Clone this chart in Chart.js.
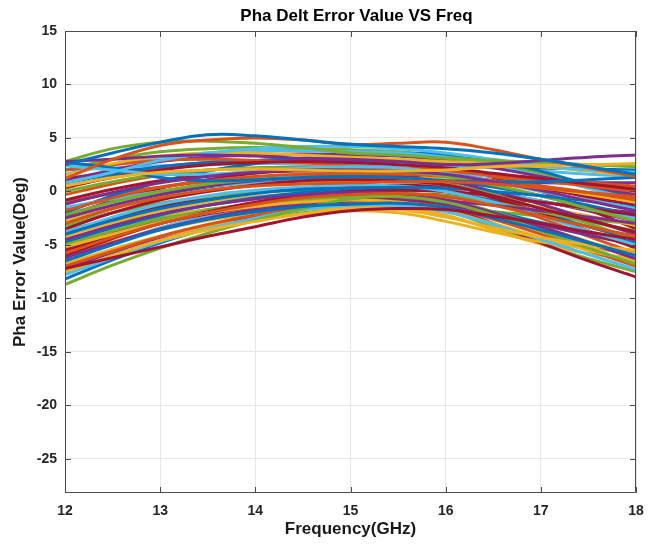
<!DOCTYPE html>
<html>
<head>
<meta charset="utf-8">
<title>Pha Delt Error Value VS Freq</title>
<script src="https://cdn.jsdelivr.net/npm/chart.js@4.4.1/dist/chart.umd.min.js"></script>
<style>
  html, body { margin: 0; padding: 0; background: #fff; }
  #wrap { width: 660px; height: 544px; position: relative; }
</style>
</head>
<body>
<div id="wrap"><canvas id="phaChart"></canvas></div>
<script>
// frequency points (GHz)
const freqGHz = [12, 12.5, 13, 13.5, 14, 14.5, 15, 15.5, 16, 16.5, 17, 17.5, 18];
const yTickVals = [-25, -20, -15, -10, -5, 0, 5, 10, 15];
const xTickVals = [12, 13, 14, 15, 16, 17, 18];

// phase delta error per channel (deg), one row per channel
const phaErr = [
  [2.5, 3.6, 4.6, 5.3, 5.2, 4.8, 4.4, 4.2, 4.0, 3.6, 3.0, 2.3, 1.6],
  [1.2, 3.0, 4.3, 4.8, 5.0, 4.8, 4.4, 4.5, 4.6, 3.9, 3.0, 2.2, 1.4],
  [0.5, 1.3, 1.8, 2.0, 2.1, 2.0, 1.9, 1.9, 2.0, 2.3, 2.4, 2.5, 2.6],
  [2.8, 3.0, 3.3, 3.4, 3.3, 3.1, 3.0, 2.8, 2.5, 2.6, 2.9, 3.2, 3.4],
  [2.8, 4.0, 4.6, 4.7, 4.5, 4.1, 3.6, 3.4, 3.1, 2.9, 2.7, 2.5, 2.3],
  [0.8, 1.8, 2.9, 3.6, 4.0, 4.2, 4.2, 4.0, 3.6, 3.0, 2.4, 2.0, 1.8],
  [-7.2, -6.2, -5.2, -4.2, -3.3, -2.4, -1.8, -1.6, -1.7, -2.3, -3.0, -3.8, -4.5],
  [-6.5, -5.0, -3.6, -2.6, -1.9, -1.4, -1.2, -1.1, -1.5, -2.5, -3.6, -4.8, -6.0],
  [-3.0, -1.6, -0.6, 0.1, 0.5, 0.7, 0.8, 0.9, 0.9, 0.7, 0.3, -0.1, -0.5],
  [-7.5, -6.0, -4.6, -3.6, -2.8, -2.1, -1.6, -1.7, -2.4, -3.4, -4.3, -5.0, -5.5],
  [-1.2, -0.1, 0.8, 1.4, 1.8, 2.0, 2.0, 1.9, 1.6, 0.9, 0.1, -0.9, -1.8],
  [-8.7, -6.9, -5.3, -3.9, -2.7, -1.6, -0.7, -0.5, -1.0, -2.2, -3.7, -5.3, -6.8],
  [2.4, 2.0, 1.6, 1.6, 1.9, 2.2, 2.3, 2.2, 1.7, 0.9, 0.0, -0.8, -1.6],
  [-3.5, -2.0, -0.8, 0.0, 0.6, 1.0, 1.1, 1.0, 0.6, -0.4, -1.6, -2.7, -3.8],
  [2.7, 2.2, 1.3, 1.0, 1.1, 1.3, 1.4, 1.3, 1.0, 0.9, 0.9, 1.1, 1.3],
  [-5.8, -4.3, -3.0, -2.0, -1.2, -0.6, -0.3, -0.2, -0.5, -1.3, -2.3, -3.3, -4.2],
  [1.5, 2.6, 3.3, 3.6, 3.6, 3.4, 3.2, 3.0, 2.8, 2.6, 2.3, 1.9, 1.5],
  [-4.5, -3.2, -2.1, -1.3, -0.7, -0.3, -0.1, -0.2, -0.8, -2.0, -3.3, -4.8, -6.3],
  [-2.2, -1.0, 0.0, 0.7, 1.1, 1.3, 1.3, 1.2, 0.7, -0.3, -1.6, -3.0, -4.5],
  [-7.8, -6.2, -4.7, -3.5, -2.5, -1.7, -1.3, -1.3, -1.9, -3.1, -4.5, -5.9, -7.3],
  [0.4, 1.3, 2.0, 2.5, 2.7, 2.8, 2.7, 2.5, 2.2, 1.7, 1.2, 0.7, 0.2],
  [-4.0, -2.7, -1.6, -0.8, -0.2, 0.2, 0.3, 0.4, 0.3, 0.0, -0.4, -0.9, -1.5],
  [2.0, 2.5, 2.9, 3.0, 2.9, 2.7, 2.4, 2.2, 1.9, 1.5, 1.0, 0.5, 0.0],
  [-5.2, -4.0, -2.9, -2.0, -1.4, -1.0, -0.8, -1.0, -1.8, -3.0, -4.3, -5.5, -6.5],
  [-6.2, -4.8, -3.5, -2.5, -1.7, -1.2, -0.9, -0.8, -0.9, -1.3, -1.8, -2.4, -3.0],
  [0.0, 0.9, 1.6, 2.0, 2.2, 2.2, 2.1, 1.9, 1.4, 0.6, -0.4, -1.6, -2.8],
  [-3.8, -2.4, -1.2, -0.4, 0.1, 0.4, 0.6, 0.5, 0.0, -1.0, -2.3, -3.7, -5.0],
  [-6.0, -4.4, -3.0, -1.9, -1.0, -0.4, 0.0, 0.1, 0.0, -0.4, -1.0, -1.6, -2.2],
  [0.8, 1.6, 2.3, 2.7, 2.9, 3.0, 2.9, 2.8, 2.6, 2.4, 2.2, 2.1, 2.0],
  [-1.8, -0.6, 0.4, 1.0, 1.4, 1.6, 1.6, 1.6, 1.4, 1.0, 0.5, -0.1, -0.8],
  [-2.8, -1.6, -0.6, 0.1, 0.6, 0.8, 0.9, 1.1, 1.2, 0.9, 0.4, -0.3, -1.0],
  [1.0, 2.0, 2.8, 3.2, 3.4, 3.5, 3.4, 3.3, 2.9, 2.2, 1.4, 0.5, -0.3],
  [-5.0, -3.7, -2.6, -1.8, -1.2, -0.8, -0.5, -0.3, -0.4, -1.0, -1.9, -2.8, -3.7],
  [1.6, 2.5, 3.2, 3.6, 3.8, 3.8, 3.7, 3.6, 3.2, 2.4, 1.4, 0.3, -0.8],
  [-0.8, 0.2, 1.0, 1.5, 1.8, 1.9, 1.8, 1.5, 0.8, -0.6, -2.0, -3.7, -5.3],
  [-4.8, -3.4, -2.2, -1.3, -0.6, -0.1, 0.2, 0.3, 0.0, -0.9, -2.0, -3.3, -4.5],
  [-7.0, -5.6, -4.2, -3.1, -2.2, -1.5, -1.0, -1.0, -1.5, -2.6, -4.0, -5.5, -7.0],
  [-6.8, -5.4, -4.2, -3.3, -2.6, -2.1, -1.8, -2.0, -2.8, -3.8, -4.7, -5.3, -5.8],
  [-2.5, -1.3, -0.3, 0.5, 1.0, 1.3, 1.5, 1.4, 1.0, 0.0, -1.2, -2.6, -4.0],
  [-3.2, -2.0, -1.1, -0.5, -0.1, 0.1, 0.2, 0.0, -0.7, -1.9, -3.3, -4.7, -6.0],
  [-1.5, -0.7, 0.0, 0.5, 0.8, 1.0, 1.0, 0.9, 0.6, -0.1, -0.9, -1.7, -2.5],
  [-5.5, -4.2, -3.0, -2.1, -1.4, -0.9, -0.6, -0.7, -1.5, -3.0, -4.8, -6.5, -8.0],
  [-2.0, -0.4, 0.9, 1.9, 2.6, 3.1, 3.4, 3.5, 3.5, 2.9, 1.9, 0.6, -0.7],
  [-0.3, 0.7, 1.5, 2.0, 2.2, 2.3, 2.3, 2.2, 2.0, 1.6, 1.2, 0.8, 0.5],
  [-4.2, -2.9, -1.8, -1.0, -0.5, -0.2, 0.0, 0.1, -0.1, -0.7, -1.5, -2.3, -3.2],
  [-7.3, -5.7, -4.3, -3.2, -2.3, -1.5, -1.0, -0.9, -1.3, -2.1, -3.1, -4.1, -5.0],
  [2.0, 3.0, 3.7, 4.0, 4.1, 4.0, 3.9, 3.7, 3.3, 2.6, 1.7, 0.6, -0.6],
  [-6.5, -4.9, -3.4, -2.3, -1.4, -0.7, -0.2, -0.1, -0.7, -2.0, -3.6, -5.2, -6.8],
  [-3.8, -2.5, -1.4, -0.6, 0.0, 0.3, 0.4, 0.6, 0.5, -0.1, -0.9, -1.8, -2.8],
  [-8.2, -6.4, -4.8, -3.5, -2.4, -1.5, -0.9, -0.8, -1.1, -1.9, -2.9, -3.9, -4.8],
  [-1.0, -0.2, 0.4, 0.9, 1.1, 1.2, 1.2, 1.0, 0.3, -1.0, -2.5, -4.2, -5.8],
  [-3.5, -2.8, -2.2, -1.8, -1.5, -1.3, -1.2, -1.4, -2.2, -3.6, -4.9, -5.8, -6.2],
  [-1.6, -0.7, 0.0, 0.5, 0.8, 1.0, 1.0, 1.1, 1.0, 0.9, 0.8, 0.8, 0.8],
  [-4.6, -3.4, -2.4, -1.7, -1.2, -0.9, -0.7, -0.9, -1.8, -3.3, -4.9, -6.3, -7.5],
  [2.0, 2.2, 2.4, 2.5, 2.6, 2.6, 2.6, 2.5, 2.4, 2.2, 1.9, 1.6, 1.4],
  [-2.3, -0.9, 0.3, 1.1, 1.7, 2.0, 2.1, 2.0, 1.6, 1.0, 0.3, -0.5, -1.3],
  [-3.0, -1.6, -0.4, 0.4, 0.9, 1.2, 1.3, 1.3, 1.0, 0.4, -0.4, -1.3, -2.3],
  [0.3, 1.4, 2.2, 2.6, 2.8, 2.9, 2.9, 2.7, 2.2, 1.4, 0.5, -0.6, -1.8],
  [-6.0, -4.7, -3.6, -2.7, -2.1, -1.7, -1.4, -1.3, -1.5, -2.2, -3.0, -3.8, -4.5],
  [-5.3, -3.9, -2.7, -1.8, -1.1, -0.7, -0.4, -0.3, -0.3, -0.6, -1.0, -1.5, -2.0],
  [-7.6, -6.0, -4.6, -3.5, -2.6, -2.0, -1.6, -1.5, -1.6, -1.9, -2.3, -2.7, -3.0],
  [-2.7, -1.3, -0.1, 0.7, 1.2, 1.5, 1.7, 1.8, 1.7, 1.4, 1.0, 0.6, 0.3],
  [1.2, 1.8, 2.3, 2.7, 2.9, 3.0, 3.0, 2.8, 2.3, 1.3, 0.0, -1.7, -3.5]
];

// default line color order
const colorOrder = ['#0072BD', '#D95319', '#EDB120', '#7E2F8E', '#77AC30', '#4DBEEE', '#A2142F'];

const FONT = "'Liberation Sans', Arial, Helvetica, sans-serif";
const AXIS_COLOR = '#4d4d4d';

// box around the plot, inward tick marks and the title over the plot area
const boxPlugin = {
  id: 'boxPlugin',
  afterDatasetsDraw(chart) {
    const { ctx, chartArea: a, scales } = chart;
    ctx.save();
    ctx.strokeStyle = AXIS_COLOR;
    ctx.lineWidth = 1;
    ctx.beginPath();
    ctx.rect(a.left + 0.5, a.top + 0.5, a.right - a.left - 1, a.bottom - a.top - 1);
    ctx.stroke();

    const len = 6;
    ctx.beginPath();
    scales.x.ticks.forEach(t => {
      const px = Math.round(scales.x.getPixelForValue(t.value)) + 0.5;
      ctx.moveTo(px, a.bottom); ctx.lineTo(px, a.bottom - len);
      ctx.moveTo(px, a.top); ctx.lineTo(px, a.top + len);
    });
    scales.y.ticks.forEach(t => {
      const py = Math.round(scales.y.getPixelForValue(t.value)) + 0.5;
      ctx.moveTo(a.left, py); ctx.lineTo(a.left + len, py);
      ctx.moveTo(a.right, py); ctx.lineTo(a.right - len, py);
    });
    ctx.stroke();

    ctx.fillStyle = '#000';
    ctx.font = 'bold 17px ' + FONT;
    ctx.textAlign = 'center';
    ctx.textBaseline = 'middle';
    ctx.fillText('Pha Delt Error Value VS Freq', (a.left + a.right) / 2 + 6, 16);
    ctx.restore();
  }
};

const datasets = phaErr.map((row, i) => ({
  data: row.map((v, j) => ({ x: freqGHz[j], y: v })),
  borderColor: colorOrder[i % colorOrder.length],
  borderWidth: 3,
  pointRadius: 0,
  tension: 0.4,
  fill: false
}));

const ctx = document.getElementById('phaChart').getContext('2d');
new Chart(ctx, {
  type: 'line',
  data: { datasets },
  plugins: [boxPlugin],
  options: {
    responsive: true,
    maintainAspectRatio: false,
    animation: false,
    layout: { padding: { top: 31, right: 24, left: 0, bottom: 4 } },
    plugins: {
      legend: { display: false },
      tooltip: { enabled: false },
      title: { display: false }
    },
    scales: {
      x: {
        type: 'linear',
        min: 12,
        max: 18,
        afterBuildTicks: s => { s.ticks = xTickVals.map(v => ({ value: v })); },
        afterFit: s => { s.height = 47; },
        grid: { color: '#e6e6e6', drawTicks: false },
        border: { display: false },
        ticks: { padding: 10, color: '#262626', font: { family: FONT, size: 14, weight: 'bold' } },
        title: {
          display: true,
          text: 'Frequency(GHz)',
          color: '#1a1a1a',
          padding: { top: 0, bottom: 0 },
          font: { family: FONT, size: 17, weight: 'bold' }
        }
      },
      y: {
        min: -28.2,
        max: 15,
        afterBuildTicks: s => { s.ticks = yTickVals.map(v => ({ value: v })); },
        afterFit: s => { s.width = 65; },
        grid: { color: '#e6e6e6', drawTicks: false },
        border: { display: false },
        ticks: { padding: 8, color: '#262626', font: { family: FONT, size: 14, weight: 'bold' } },
        title: {
          display: true,
          text: 'Pha Error Value(Deg)',
          color: '#1a1a1a',
          padding: { top: 10, bottom: 0 },
          font: { family: FONT, size: 17, weight: 'bold' }
        }
      }
    }
  }
});
</script>
</body>
</html>
